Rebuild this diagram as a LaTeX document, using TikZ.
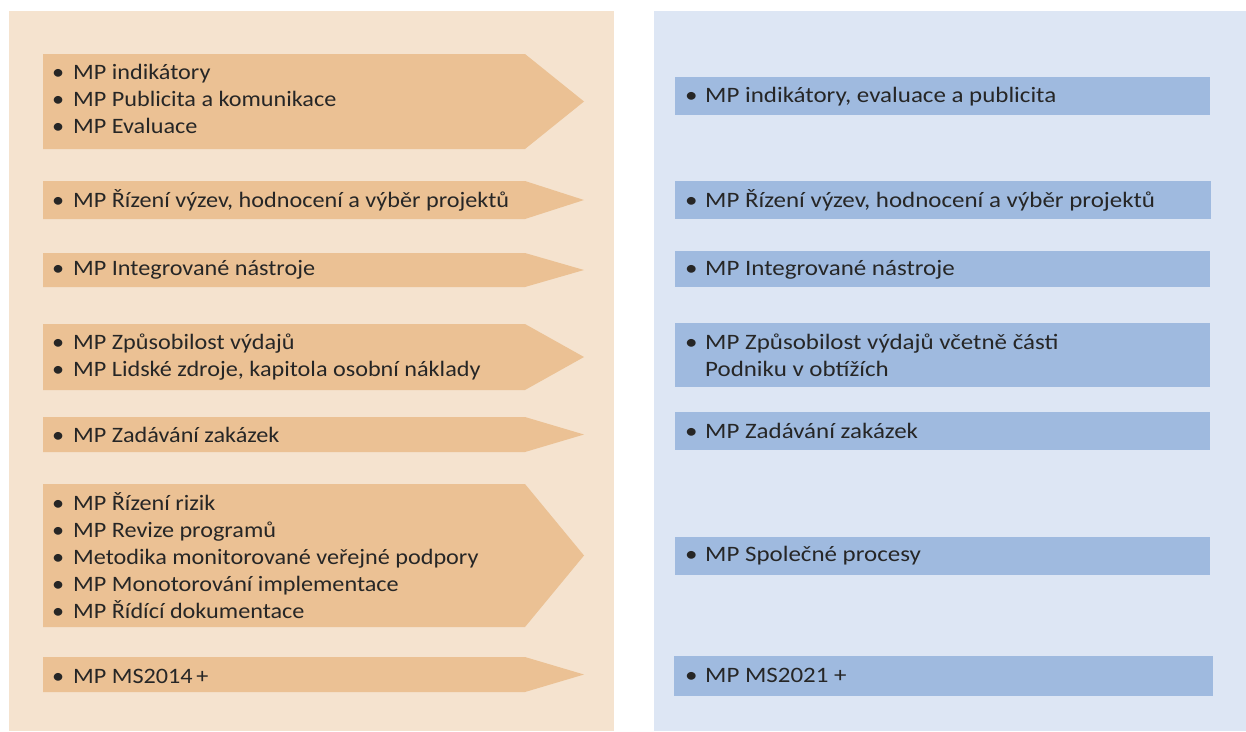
\documentclass[tikz,border=0pt]{standalone}
\usepackage{fontspec}
\setmainfont{Carlito}
\newfontfamily\lfont{Carlito}[FakeStretch=1.10]
\newfontfamily\rfont{Carlito}[FakeStretch=1.135]
\definecolor{leftbg}{HTML}{F5E3CF}
\definecolor{arrowc}{HTML}{EBC194}
\definecolor{rightbg}{HTML}{DDE6F4}
\definecolor{boxc}{HTML}{9FBADF}
\definecolor{txt}{HTML}{262626}
\newcommand\litm[1]{\makebox[23pt][l]{\hspace{2pt}•}#1}
\newcommand\ritm[1]{\makebox[24pt][l]{\hspace{4pt}•}#1}
\begin{document}
\begin{tikzpicture}[x=1pt,y=-1pt,
  ltext/.style={anchor=west,align=left,inner sep=0pt,text=txt,font=\lfont\fontsize{22}{27}\selectfont},
  rtext/.style={anchor=west,align=left,inner sep=0pt,text=txt,font=\rfont\fontsize{22}{27}\selectfont},
  bluebox/.style={fill=boxc}]
\useasboundingbox (0,0) rectangle (1246,731);
\fill[leftbg] (9,11) rectangle (614,731);
\fill[rightbg] (654,11) rectangle (1246,731);
% arrows
\foreach \t/\b in {54/149,181/219,253/287,324/390,417/452,484/627,657/692}{
  \fill[arrowc] (43,\t) -- (525,\t) -- (584,{(\t+\b)/2}) -- (525,\b) -- (43,\b) -- cycle;
}
% blue boxes
\fill[bluebox] (675,77) rectangle (1210,115);
\fill[bluebox] (675,181) rectangle (1211,219);
\fill[bluebox] (675,251) rectangle (1210,287);
\fill[bluebox] (675,323) rectangle (1210,387);
\fill[bluebox] (675,412) rectangle (1210,450);
\fill[bluebox] (675,537) rectangle (1210,575);
\fill[bluebox] (674,656) rectangle (1213,696);
% left texts
\node[ltext] (l1) at (50,99) {\litm{MP indikátory}\\\litm{MP Publicita a komunikace}\\\litm{MP Evaluace}};
\node[ltext] (l2) at (50,200) {\litm{MP Řízení výzev, hodnocení a výběr projektů}};
\node[ltext] (l3) at (50,270) {\litm{MP Integrované nástroje}};
\node[ltext] (l4) at (50,357) {\litm{MP Způsobilost výdajů}\\\litm{MP Lidské zdroje, kapitola osobní náklady}};
\node[ltext] (l5) at (50,435) {\litm{MP Zadávání zakázek}};
\node[ltext] (l6) at (50,556) {\litm{MP Řízení rizik}\\\litm{MP Revize programů}\\\litm{Metodika monitorované veřejné podpory}\\\litm{MP Monotorování implementace}\\\litm{MP Řídící dokumentace}};
\node[ltext] (l7) at (50,676) {\litm{MP MS2014\,+}};
% right texts
\node[rtext] (r1) at (681,97) {\ritm{MP indikátory, evaluace a publicita}};
\node[rtext] (r2) at (681,200) {\ritm{MP Řízení výzev, hodnocení a výběr projektů}};
\node[rtext] (r3) at (681,270) {\ritm{MP Integrované nástroje}};
\node[rtext] (r4) at (681,355) {\ritm{MP Způsobilost výdajů včetně části}\\\hspace{24pt}Podniku v obtížích};
\node[rtext] (r5) at (681,431) {\ritm{MP Zadávání zakázek}};
\node[rtext] (r6) at (681,556) {\ritm{MP Společné procesy}};
\node[rtext] (r7) at (681,675) {\ritm{MP MS2021 +}};
\end{tikzpicture}
\end{document}
